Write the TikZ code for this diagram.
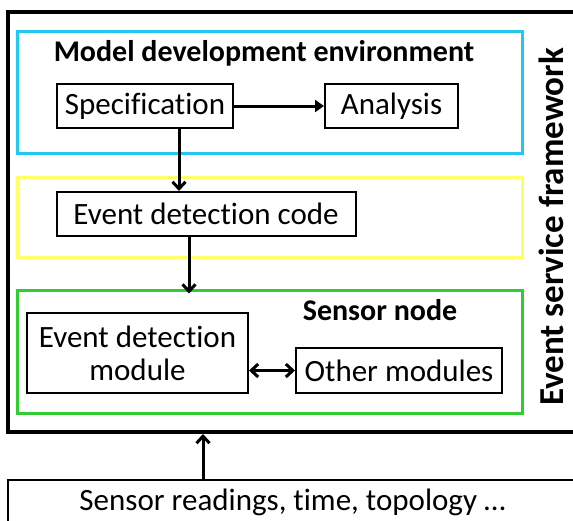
\documentclass[tikz,border=0pt]{standalone}
\usepackage{fontspec}
\setmainfont{Carlito}[Ligatures=NoCommon]
\usepackage{tikz}
\usetikzlibrary{arrows.meta,positioning}
\definecolor{mdeblue}{HTML}{22C8EE}
\definecolor{codeyellow}{HTML}{FFFF66}
\definecolor{nodegreen}{HTML}{33CC33}
\begin{document}
\begin{tikzpicture}[x=1pt,y=-1pt,
        box/.style={draw,rectangle,line width=2pt,inner sep=0pt,font=\fontsize{31}{33}\selectfont},
        frame/.style={draw,rectangle,line width=3pt,minimum width=505pt},
        title/.style={font=\fontsize{30}{33}\selectfont\bfseries},
        barb/.tip={Straight Barb[length=7pt,width=13pt,line width=3pt]},
        arr/.style={line width=3pt,-barb}]
    \useasboundingbox (0,0) rectangle (573,520);
        \node[draw,rectangle,line width=4pt,minimum width=592pt,minimum height=420pt] (esf) at (304,222) {};
        \node[frame,mdeblue,minimum height=122pt] (mde) at (269.5,92) {};
        \node[frame,codeyellow,minimum height=80pt] (code) at (269.5,217) {};
        \node[frame,nodegreen,minimum height=123pt] (sn) at (269.5,351.5) {};
        \node[title] (mdetitle) at (264,53) {Model development environment};
        \node[box,minimum width=176pt,minimum height=44pt] (spec) at (145,106) {Specification};
        \node[box,minimum width=133pt,minimum height=44pt] (anal) at (391.5,106) {Analysis};
        \node[box,minimum width=299pt,minimum height=44pt] (edc) at (206,214) {Event detection code};
        \node[title] (sntitle) at (380,310) {Sensor node};
        \node[box,minimum width=221pt,minimum height=80pt,align=center] (edm) at (137.5,353) {Event detection\\module};
        \node[box,minimum width=206pt,minimum height=45pt] (other) at (399,370.5) {Other modules};
        \node[title,font=\fontsize{35}{38}\selectfont\bfseries,rotate=90] (esftitle) at (551,227) {Event service framework};
        \node[box,minimum width=569pt,minimum height=92pt] (input) at (292.5,526) {};
        \node[font=\fontsize{31}{33}\selectfont] (inputtext) at (292.5,502) {Sensor readings, time, topology \dots};
        \coordinate (specout) at ([xshift=34pt]spec.south);
        \coordinate (edcout) at ([xshift=-17pt]edc.south);
        \coordinate (inputout) at ([xshift=-89.5pt]input.north);
        \draw[line width=3pt,-{Triangle[length=9pt,width=12pt]}] (spec) -- (anal);
        \draw[arr] (specout) -- (specout |- edc.north);
        \draw[arr] (edcout) -- ([yshift=-5pt]edcout |- sn.north);
        \draw[arr,barb-barb] (edm.east |- other) -- (other);
        \draw[arr] (inputout) -- (inputout |- esf.south);
\end{tikzpicture}
\end{document}
